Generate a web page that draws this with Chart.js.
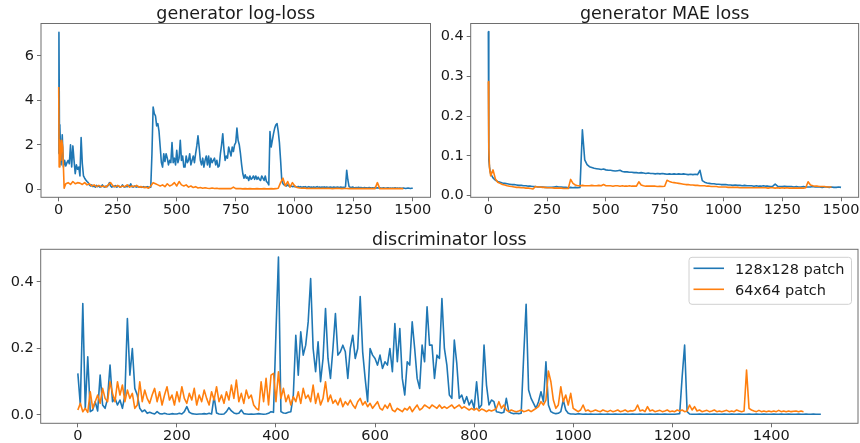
<!DOCTYPE html>
<html><head><meta charset="utf-8">
<script src="https://cdn.jsdelivr.net/npm/chart.js@4.4.1/dist/chart.umd.min.js"></script>
<style>
html,body{margin:0;padding:0;background:#fff;width:860px;height:443px;overflow:hidden}
canvas{position:absolute}
</style></head><body>
<canvas id="c1" width="440" height="222" style="left:0;top:0"></canvas>
<canvas id="c2" width="424" height="222" style="left:436px;top:0"></canvas>
<canvas id="c3" width="860" height="221" style="left:0;top:222px"></canvas>
<script>
// ---------- labels / ticks ----------
const TITLES = ['generator log-loss', 'generator MAE loss', 'discriminator loss'];
const SERIES_LABELS = ['128x128 patch', '64x64 patch'];
const TOP_XTICKS = [0, 250, 500, 750, 1000, 1250, 1500];
const BOT_XTICKS = [0, 200, 400, 600, 800, 1000, 1200, 1400];
const GL_YTICKS = [0, 2, 4, 6];
const MAE_YTICKS = [0, 0.1, 0.2, 0.3, 0.4];
const D_YTICKS = [0, 0.2, 0.4];

// ---------- generator log-loss ----------
const GL_BLUE_HEAD_X = [0, 1, 3];
const GL_BLUE_HEAD = [1.6, 7.05, 2.9];
const GL_BLUE_START = 5, GL_BLUE_STEP = 5;
const GL_BLUE = [
 2.8,1.1,2.45,1.0,1.3,1.05,1.2,1.3,1.15,2.0,
 1.0,1.95,1.3,0.7,1.1,0.9,1.0,0.6,2.33,1.16,
 0.6,0.5,0.42,0.35,0.3,0.2,0.15,0.2,0.12,0.15,
 0.1,0.18,0.12,0.15,0.1,0.13,0.2,0.12,0.1,0.15,
 0.12,0.18,0.3,0.15,0.1,0.14,0.12,0.17,0.1,0.12,
 0.15,0.1,0.12,0.2,0.12,0.1,0.14,0.11,0.18,0.12,
 0.25,0.12,0.1,0.15,0.12,0.1,0.13,0.1,0.12,0.09,
 0.1,0.12,0.08,0.1,0.12,0.1,0.08,0.1,1.6,3.7,
 3.4,3.3,2.85,2.95,2.6,1.9,1.2,1.0,1.6,1.25,
 1.6,1.4,1.1,1.3,1.2,2.1,1.2,1.4,1.1,1.75,
 1.2,1.4,2.2,1.3,1.5,1.0,1.0,1.5,1.2,1.3,
 1.6,1.1,1.3,1.5,1.2,1.6,1.95,2.4,1.9,1.3,
 1.1,1.4,1.0,1.3,1.5,1.1,1.5,1.0,1.4,1.2,
 1.3,1.4,1.1,1.3,1.0,1.05,1.6,2.0,2.5,1.8,
 1.3,1.5,1.4,1.9,1.7,1.5,1.9,1.7,2.0,2.1,
 2.75,2.2,2.0,1.6,1.1,0.7,0.5,0.65,0.5,0.55,
 0.4,0.6,0.45,0.5,0.6,0.45,0.6,0.45,0.55,0.45,
 0.4,0.6,0.5,0.4,0.6,0.35,0.3,0.2,2.6,1.9,
 2.2,2.5,2.75,2.9,2.95,2.6,2.1,1.3,0.4,0.25,
 0.2,0.18,0.15,0.2,0.15,0.13,0.15,0.12,0.14,0.12,
 0.12,0.1,0.13,0.1,0.12,0.09,0.11,0.1,0.12,0.09,
 0.1,0.12,0.09,0.1,0.08,0.11,0.09,0.1,0.12,0.09,
 0.1,0.08,0.1,0.09,0.11,0.08,0.1,0.09,0.08,0.1,
 0.09,0.08,0.1,0.09,0.08,0.1,0.09,0.08,0.1,0.08,
 0.09,0.08,0.12,0.86,0.42,0.12,0.09,0.08,0.1,0.08,
 0.07,0.08,0.07,0.09,0.07,0.08,0.07,0.06,0.08,0.07,
 0.07,0.06,0.08,0.07,0.06,0.07,0.06,0.08,0.06,0.07,
 0.06,0.07,0.06,0.05,0.07,0.06,0.05,0.06,0.07,0.05,
 0.06,0.05,0.06,0.05,0.07,0.05,0.06,0.05,0.06,0.05,
 0.05,0.06,0.05,0.04,0.05,0.06,0.05,0.04,0.05,0.05
];
const GL_ORANGE_HEAD_X = [0, 2, 5, 9, 13, 17, 20, 23];
const GL_ORANGE_HEAD = [4.6, 1.0, 2.2, 1.3, 2.2, 1.9, 1.0, 0.05];
const GL_ORANGE_START = 30, GL_ORANGE_STEP = 10;
const GL_ORANGE = [
 0.25,0.3,0.22,0.35,0.25,0.3,0.28,0.22,0.3,0.2,
 0.25,0.15,0.2,0.12,0.18,0.12,0.15,0.1,0.2,0.3,
 0.15,0.12,0.18,0.1,0.15,0.12,0.2,0.1,0.15,0.12,
 0.18,0.1,0.12,0.08,0.1,0.05,0.15,0.3,0.25,0.2,
 0.15,0.2,0.12,0.25,0.15,0.2,0.3,0.15,0.35,0.2,
 0.15,0.2,0.1,0.15,0.08,0.12,0.06,0.08,0.05,0.07,
 0.05,0.04,0.06,0.04,0.05,0.03,0.04,0.03,0.04,0.03,
 0.03,0.1,0.03,0.04,0.03,0.02,0.03,0.02,0.03,0.02,
 0.02,0.03,0.02,0.02,0.03,0.02,0.02,0.03,0.02,0.03,
 0.05,0.3,0.5,0.15,0.35,0.1,0.3,0.15,0.08,0.06,
 0.05,0.06,0.04,0.05,0.04,0.05,0.04,0.05,0.04,0.05,
 0.04,0.05,0.04,0.03,0.04,0.05,0.04,0.03,0.04,0.04,
 0.03,0.04,0.03,0.04,0.03,0.04,0.03,0.04,0.03,0.03,
 0.04,0.03,0.3,0.03,0.04,0.03,0.03,0.04,0.03,0.03,
 0.03,0.04,0.03,0.03
];

// ---------- generator MAE loss ----------
const MAE_BLUE_HEAD_X = [0, 2, 5, 8];
const MAE_BLUE_HEAD = [0.413, 0.09, 0.073, 0.06];
const MAE_BLUE_START = 10, MAE_BLUE_STEP = 10;
const MAE_BLUE = [
 0.055,0.045,0.039,0.036,0.034,0.032,0.031,0.03,0.029,0.028,
 0.028,0.027,0.026,0.026,0.025,0.025,0.024,0.024,0.023,0.023,
 0.022,0.022,0.022,0.021,0.021,0.021,0.021,0.022,0.023,0.022,
 0.022,0.021,0.021,0.02,0.021,0.02,0.021,0.02,0.021,0.166,
 0.09,0.078,0.073,0.071,0.069,0.068,0.067,0.066,0.067,0.065,
 0.064,0.064,0.063,0.062,0.063,0.064,0.061,0.06,0.06,0.059,
 0.059,0.058,0.058,0.057,0.058,0.057,0.056,0.057,0.056,0.056,
 0.055,0.056,0.055,0.056,0.055,0.054,0.055,0.054,0.055,0.054,
 0.055,0.054,0.055,0.054,0.053,0.054,0.053,0.054,0.053,0.064,
 0.038,0.034,0.032,0.031,0.03,0.03,0.029,0.029,0.028,0.028,
 0.028,0.027,0.027,0.026,0.027,0.026,0.026,0.025,0.026,0.025,
 0.025,0.025,0.024,0.025,0.024,0.024,0.025,0.024,0.024,0.023,
 0.024,0.029,0.024,0.023,0.023,0.024,0.023,0.023,0.023,0.022,
 0.023,0.022,0.022,0.023,0.022,0.022,0.022,0.023,0.022,0.022,
 0.022,0.021,0.022,0.022,0.021,0.022,0.021,0.021,0.022,0.021
];
const MAE_ORANGE_HEAD_X = [0, 2, 5];
const MAE_ORANGE_HEAD = [0.287, 0.12, 0.07];
const MAE_ORANGE_START = 10, MAE_ORANGE_STEP = 10;
const MAE_ORANGE = [
 0.05,0.065,0.042,0.034,0.031,0.028,0.027,0.025,0.024,0.023,
 0.022,0.021,0.021,0.02,0.02,0.019,0.019,0.018,0.017,0.023,
 0.022,0.022,0.021,0.021,0.02,0.02,0.02,0.019,0.019,0.019,
 0.019,0.018,0.018,0.018,0.041,0.031,0.027,0.025,0.025,0.026,
 0.025,0.025,0.025,0.026,0.025,0.025,0.026,0.025,0.028,0.025,
 0.025,0.025,0.024,0.025,0.025,0.024,0.025,0.024,0.024,0.025,
 0.024,0.024,0.024,0.035,0.027,0.025,0.024,0.024,0.024,0.024,
 0.024,0.023,0.024,0.023,0.024,0.039,0.036,0.034,0.033,0.032,
 0.031,0.03,0.029,0.028,0.028,0.027,0.027,0.026,0.026,0.025,
 0.025,0.025,0.024,0.024,0.023,0.023,0.023,0.022,0.022,0.022,
 0.022,0.021,0.021,0.021,0.021,0.021,0.02,0.02,0.02,0.02,
 0.02,0.02,0.02,0.02,0.02,0.02,0.02,0.02,0.019,0.02,
 0.02,0.019,0.02,0.019,0.02,0.019,0.02,0.019,0.019,0.019,
 0.019,0.019,0.019,0.019,0.02,0.035,0.027,0.025,0.024,0.024,
 0.023,0.023,0.023,0.022,0.022,0.022
];

// ---------- discriminator loss ----------
const D_BLUE_START = 0, D_BLUE_STEP = 5;
const D_BLUE = [
 0.125,0.03,0.335,0.02,0.175,0.01,0.015,0.04,0.012,0.12,
 0.03,0.02,0.05,0.15,0.04,0.05,0.03,0.045,0.02,0.06,
 0.29,0.12,0.2,0.08,0.06,0.02,0.01,0.015,0.005,0.008,
 0.005,0.003,0.01,0.004,0.003,0.005,0.003,0.002,0.004,0.003,
 0.003,0.005,0.003,0.01,0.025,0.008,0.004,0.003,0.002,0.003,
 0.003,0.004,0.003,0.005,0.003,0.055,0.006,0.003,0.002,0.003,
 0.01,0.022,0.012,0.006,0.004,0.005,0.015,0.004,0.003,0.002,
 0.003,0.002,0.003,0.004,0.003,0.002,0.003,0.005,0.01,0.008,
 0.25,0.475,0.01,0.006,0.005,0.008,0.01,0.06,0.24,0.12,
 0.25,0.18,0.21,0.28,0.41,0.2,0.13,0.22,0.1,0.17,
 0.32,0.17,0.11,0.2,0.305,0.18,0.19,0.21,0.19,0.11,
 0.2,0.24,0.17,0.2,0.356,0.19,0.11,0.04,0.2,0.18,
 0.17,0.15,0.18,0.14,0.16,0.15,0.2,0.13,0.275,0.16,
 0.26,0.11,0.06,0.16,0.15,0.28,0.2,0.11,0.08,0.21,
 0.16,0.325,0.21,0.21,0.11,0.18,0.17,0.35,0.2,0.15,
 0.06,0.05,0.225,0.155,0.05,0.06,0.035,0.055,0.03,0.045,
 0.02,0.1,0.02,0.03,0.21,0.09,0.03,0.045,0.04,0.01,
 0.008,0.006,0.008,0.05,0.01,0.006,0.004,0.005,0.004,0.005,
 0.175,0.333,0.075,0.05,0.035,0.02,0.04,0.07,0.04,0.16,
 0.03,0.01,0.006,0.004,0.005,0.01,0.045,0.015,0.005,0.003,
 0.003,0.002,0.004,0.003,0.002,0.003,0.002,0.003,0.002,0.002,
 0.002,0.003,0.002,0.002,0.003,0.002,0.002,0.003,0.002,0.002,
 0.002,0.003,0.002,0.002,0.003,0.002,0.002,0.003,0.002,0.002,
 0.002,0.003,0.002,0.002,0.003,0.002,0.002,0.003,0.002,0.002,
 0.002,0.002,0.003,0.004,0.115,0.21,0.01,0.003,0.002,0.002,
 0.002,0.003,0.002,0.002,0.003,0.002,0.002,0.003,0.002,0.002,
 0.002,0.003,0.002,0.002,0.003,0.002,0.002,0.003,0.002,0.002,
 0.002,0.003,0.002,0.002,0.003,0.002,0.002,0.003,0.002,0.002,
 0.002,0.003,0.002,0.002,0.003,0.002,0.002,0.003,0.002,0.002,
 0.002,0.003,0.002,0.002,0.003,0.002,0.002,0.003,0.002,0.002,
 0.002
];
const D_ORANGE_START = 0, D_ORANGE_STEP = 5;
const D_ORANGE = [
 0.015,0.035,0.01,0.02,0.008,0.07,0.02,0.04,0.06,0.035,
 0.08,0.05,0.04,0.1,0.065,0.04,0.1,0.06,0.09,0.04,
 0.075,0.05,0.065,0.02,0.03,0.1,0.04,0.075,0.05,0.035,
 0.06,0.08,0.04,0.07,0.03,0.06,0.085,0.045,0.06,0.03,
 0.07,0.04,0.085,0.05,0.035,0.065,0.045,0.08,0.03,0.06,
 0.04,0.075,0.05,0.03,0.07,0.045,0.085,0.04,0.06,0.035,
 0.07,0.045,0.09,0.05,0.105,0.04,0.065,0.035,0.075,0.05,
 0.06,0.03,0.02,0.015,0.1,0.04,0.11,0.03,0.12,0.125,
 0.04,0.13,0.05,0.08,0.04,0.06,0.03,0.055,0.04,0.07,
 0.035,0.08,0.05,0.06,0.04,0.09,0.035,0.065,0.03,0.05,
 0.1,0.04,0.06,0.035,0.045,0.03,0.05,0.025,0.04,0.03,
 0.045,0.03,0.02,0.04,0.05,0.03,0.04,0.025,0.035,0.02,
 0.03,0.04,0.02,0.015,0.03,0.02,0.035,0.015,0.01,0.02,
 0.015,0.01,0.02,0.015,0.025,0.01,0.02,0.03,0.015,0.02,
 0.03,0.025,0.02,0.03,0.025,0.02,0.03,0.02,0.025,0.02,
 0.025,0.03,0.02,0.025,0.03,0.02,0.025,0.02,0.015,0.02,
 0.015,0.02,0.012,0.018,0.015,0.01,0.015,0.012,0.015,0.02,
 0.04,0.02,0.03,0.015,0.01,0.015,0.012,0.01,0.012,0.015,
 0.01,0.012,0.015,0.01,0.015,0.02,0.025,0.04,0.03,0.045,
 0.132,0.1,0.045,0.02,0.03,0.085,0.04,0.06,0.03,0.065,
 0.02,0.015,0.01,0.015,0.03,0.012,0.015,0.01,0.012,0.015,
 0.012,0.01,0.015,0.012,0.01,0.014,0.01,0.012,0.015,0.01,
 0.012,0.015,0.01,0.013,0.012,0.015,0.03,0.012,0.015,0.01,
 0.025,0.012,0.015,0.01,0.012,0.014,0.01,0.012,0.015,0.01,
 0.012,0.01,0.015,0.012,0.015,0.01,0.012,0.03,0.015,0.025,
 0.012,0.015,0.01,0.012,0.014,0.01,0.012,0.015,0.01,0.012,
 0.01,0.012,0.014,0.01,0.012,0.01,0.015,0.012,0.01,0.012,
 0.135,0.02,0.015,0.012,0.01,0.014,0.01,0.012,0.01,0.012,
 0.01,0.012,0.01,0.014,0.01,0.012,0.01,0.012,0.01,0.011,
 0.012,0.01,0.012,0.01
];

// ---------- styling ----------
const BLUE = '#1f77b4', ORANGE = '#ff7f0e';
const AXIS = '#6e6e6e', TEXT = '#1a1a1a';
const FONT = "'DejaVu Sans', sans-serif";
const TICK_FONT = {family: FONT, size: 14.5};
const LINE_W = 1.6;

function pts(headX, headY, start, step, vals) {
  const out = headX.map((x, i) => ({x: x, y: headY[i]}));
  vals.forEach((v, i) => out.push({x: start + i * step, y: v}));
  return out;
}

function xAxis(ticks, h) {
  return {
    type: 'linear', min: -75, max: 1575,
    afterBuildTicks: ax => { ax.ticks = ticks.map(v => ({value: v})); },
    afterFit: ax => { ax.height = h; },
    grid: {drawOnChartArea: false, drawTicks: true, tickLength: 4, color: AXIS, lineWidth: 1},
    border: {display: false},
    ticks: {font: TICK_FONT, color: TEXT, padding: 0.5, maxRotation: 0, autoSkip: false,
            callback: v => String(v)}
  };
}
function yAxis(ticks, min, max, w, dec) {
  return {
    type: 'linear', min: min, max: max,
    afterBuildTicks: ax => { ax.ticks = ticks.map(v => ({value: v})); },
    afterFit: ax => { ax.width = w; },
    grid: {drawOnChartArea: false, drawTicks: true, tickLength: 4, color: AXIS, lineWidth: 1},
    border: {display: false},
    ticks: {font: TICK_FONT, color: TEXT, padding: 3, autoSkip: false,
            callback: v => v.toFixed(dec)}
  };
}

function framePlugin(title, baseline) {
  return {
    id: 'frameTitle',
    afterDraw(c) {
      const a = c.chartArea, ctx = c.ctx;
      ctx.save();
      ctx.strokeStyle = AXIS; ctx.lineWidth = 1;
      ctx.strokeRect(a.left, a.top, a.right - a.left, a.bottom - a.top);
      ctx.fillStyle = TEXT;
      ctx.font = "17.5px " + FONT;
      ctx.textAlign = 'center'; ctx.textBaseline = 'alphabetic';
      ctx.fillText(title, (a.left + a.right) / 2, baseline);
      ctx.restore();
    }
  };
}

const legendPlugin = {
  id: 'mplLegend',
  afterDraw(c) {
    const a = c.chartArea, ctx = c.ctx;
    const w = 162.5, h = 47;
    const x = a.right - 6.5 - w, y = a.top + 8;
    ctx.save();
    ctx.beginPath();
    if (ctx.roundRect) ctx.roundRect(x, y, w, h, 3); else ctx.rect(x, y, w, h);
    ctx.fillStyle = 'rgba(255,255,255,0.8)'; ctx.fill();
    ctx.strokeStyle = '#d0d0d0'; ctx.lineWidth = 1; ctx.stroke();
    const cols = [BLUE, ORANGE];
    ctx.font = "14.5px " + FONT;
    ctx.textAlign = 'left'; ctx.textBaseline = 'alphabetic';
    for (let i = 0; i < 2; i++) {
      const ly = y + 11 + i * 21;
      ctx.strokeStyle = cols[i]; ctx.lineWidth = LINE_W;
      ctx.beginPath(); ctx.moveTo(x + 4.5, ly); ctx.lineTo(x + 35, ly); ctx.stroke();
      ctx.fillStyle = TEXT;
      ctx.fillText(SERIES_LABELS[i], x + 46, ly + 5.3);
    }
    ctx.restore();
  }
};

function ds(label, data, color, order) {
  return {label: label, data: data, borderColor: color, backgroundColor: color,
          borderWidth: LINE_W, pointRadius: 0, tension: 0, fill: false, order: order,
          borderJoinStyle: 'round'};
}

function makeChart(id, datasets, scales, padding, plugins) {
  return new Chart(document.getElementById(id), {
    type: 'line',
    data: {datasets: datasets},
    options: {
      responsive: false, animation: false, devicePixelRatio: 1,
      parsing: false, normalized: true,
      layout: {padding: padding},
      plugins: {legend: {display: false}, tooltip: {enabled: false}, title: {display: false}},
      scales: scales, events: []
    },
    plugins: plugins
  });
}

makeChart('c1', [
  ds(SERIES_LABELS[0], pts(GL_BLUE_HEAD_X, GL_BLUE_HEAD, GL_BLUE_START, GL_BLUE_STEP, GL_BLUE), BLUE, 2),
  ds(SERIES_LABELS[1], pts(GL_ORANGE_HEAD_X, GL_ORANGE_HEAD, GL_ORANGE_START, GL_ORANGE_STEP, GL_ORANGE), ORANGE, 1)
], {x: xAxis(TOP_XTICKS, 24.7), y: yAxis(GL_YTICKS, -0.358, 7.45, 41, 0)},
 {top: 23.5, right: 9.5, left: 0, bottom: 0}, [framePlugin(TITLES[0], 19.3)]);

makeChart('c2', [
  ds(SERIES_LABELS[0], pts(MAE_BLUE_HEAD_X, MAE_BLUE_HEAD, MAE_BLUE_START, MAE_BLUE_STEP, MAE_BLUE), BLUE, 2),
  ds(SERIES_LABELS[1], pts(MAE_ORANGE_HEAD_X, MAE_ORANGE_HEAD, MAE_ORANGE_START, MAE_ORANGE_STEP, MAE_ORANGE), ORANGE, 1)
], {x: xAxis(TOP_XTICKS, 24.7), y: yAxis(MAE_YTICKS, -0.004, 0.4332, 34.7, 1)},
 {top: 23.5, right: 1, left: 0, bottom: 0}, [framePlugin(TITLES[1], 19.3)]);

makeChart('c3', [
  ds(SERIES_LABELS[0], pts([], [], D_BLUE_START, D_BLUE_STEP, D_BLUE), BLUE, 2),
  ds(SERIES_LABELS[1], pts([], [], D_ORANGE_START, D_ORANGE_STEP, D_ORANGE), ORANGE, 1)
], {x: xAxis(BOT_XTICKS, 19.7), y: yAxis(D_YTICKS, -0.025, 0.4983, 40.7, 1)},
 {top: 27.3, right: 2, left: 0, bottom: 0}, [framePlugin(TITLES[2], 23), legendPlugin]);
</script>
</body></html>
